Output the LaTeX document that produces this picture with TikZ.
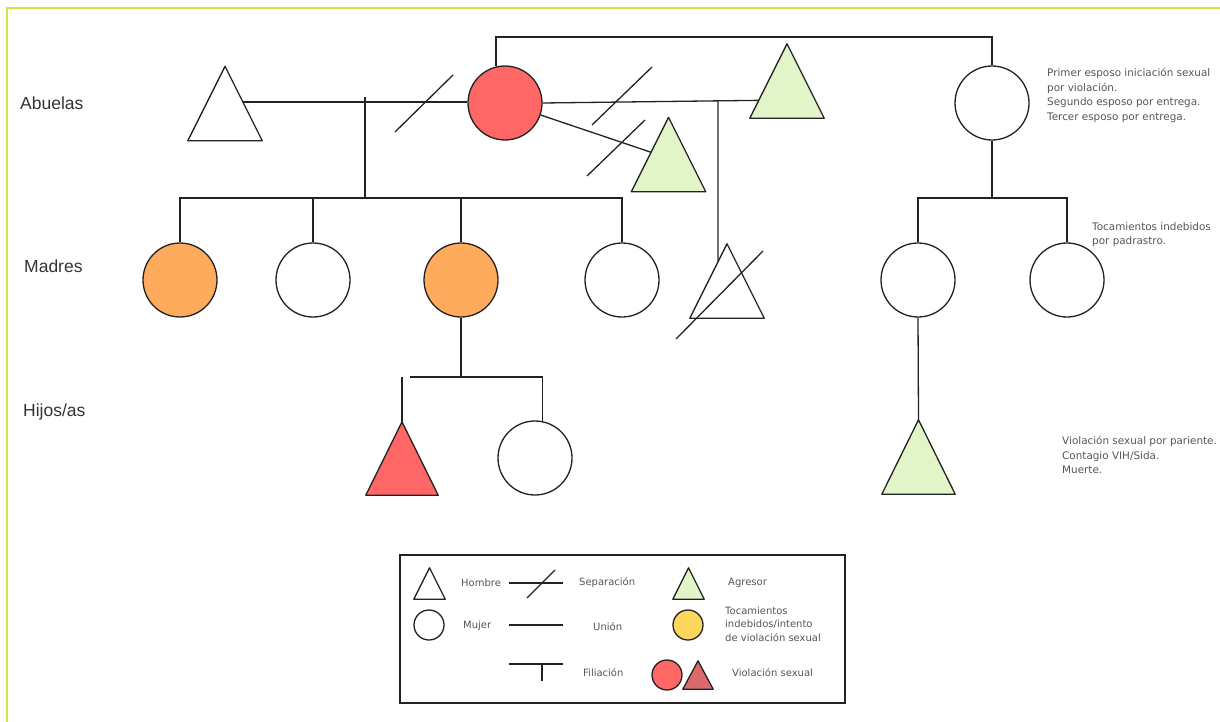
\documentclass[tikz,border=0pt]{standalone}
\usepackage{fontspec}
\setmainfont{Liberation Sans}
\newfontfamily\notefont{DejaVu Sans}
\usetikzlibrary{calc}
\definecolor{redf}{RGB}{255,102,102}
\definecolor{orangef}{RGB}{255,171,94}
\definecolor{greenf}{RGB}{226,245,200}
\definecolor{yellowf}{RGB}{255,214,92}
\definecolor{redtri}{RGB}{219,107,107}
\definecolor{framec}{RGB}{214,228,62}
\definecolor{linec}{RGB}{34,34,34}
\definecolor{txtc}{RGB}{85,85,85}
\definecolor{lblc}{RGB}{51,51,51}
\newcommand{\drawtri}[2]{\draw[shp,fill=#2] (#1.north) -- (#1.south east) -- (#1.south west) -- cycle;}
\begin{document}
\begin{tikzpicture}[x=1pt,y=-1pt,
  shp/.style={draw=linec,line width=1.3pt,line join=round},
  ln/.style={draw=linec,line width=1.3pt},
  circ/.style={circle,shp,minimum size=74pt,inner sep=0pt},
  trib/.style={rectangle,draw=none,inner sep=0pt,minimum width=74pt,minimum height=74pt},
  lcirc/.style={circle,shp,minimum size=30pt,inner sep=0pt},
  ltri/.style={rectangle,draw=none,inner sep=0pt,minimum width=31pt,minimum height=31pt},
  rowlbl/.style={anchor=west,inner sep=0pt,text=lblc,font=\fontsize{17.5}{20}\selectfont},
  note/.style={anchor=north west,inner sep=0pt,align=left,text=txtc,font=\notefont\fontsize{10.4}{14.5}\selectfont},
  leg/.style={anchor=west,inner sep=0pt,text=txtc,font=\notefont\fontsize{10}{14}\selectfont},
]
\useasboundingbox (0,0) rectangle (1220,722);
% frame
\draw[framec,line width=2pt] (7,722) -- (7,8) -- (1220,8);

% row labels
\node[rowlbl] (lab1) at (20,103) {Abuelas};
\node[rowlbl] (lab2) at (24,266) {Madres};
\node[rowlbl] (lab3) at (23,412) {Hijos/as};

% grandparents
\node[trib] (gf1) at (225,103.5) {};
\drawtri{gf1}{white}
\node[circ,fill=redf] (gm) at (505,103) {};
\node[trib] (ga1) at (787,81) {};
\drawtri{ga1}{greenf}
\node[trib] (ga2) at (668.5,154.5) {};
\drawtri{ga2}{greenf}
\node[circ,fill=white] (gm2) at (992,103) {};

% mothers
\node[circ,fill=orangef] (m1) at (180,280) {};
\node[circ,fill=white] (m2) at (313,280) {};
\node[circ,fill=orangef] (m3) at (461,280) {};
\node[circ,fill=white] (m4) at (622,280) {};
\node[trib] (mx) at (727,281) {};
\drawtri{mx}{white}
\node[circ,fill=white] (m5) at (918,280) {};
\node[circ,fill=white] (m6) at (1067,280) {};

% children
\node[trib,minimum width=72pt,minimum height=73pt] (c1) at (402,458.5) {};
\drawtri{c1}{redf}
\node[circ,fill=white] (c2) at (535,458) {};
\node[trib,minimum height=74pt,minimum width=73pt] (c3) at (918.5,457) {};
\drawtri{c3}{greenf}

% coordinates
\coordinate (u1) at ($(gf1.north)!0.48!(gf1.south east)$);
\coordinate (f1top) at (365,97);
\coordinate (f1) at (365,198);
\coordinate (tp) at (740,37);
\coordinate (ga1e) at ($(ga1.north)!0.76!(ga1.south west)$);
\coordinate (ga2e) at ($(ga2.north)!0.47!(ga2.south west)$);
\coordinate (j2) at (718,101);
\coordinate (mxe) at ($(mx.north)!0.243!(mx.south west)$);
\coordinate (f2) at (992,198);
\coordinate (f3) at (461,377);
\coordinate (f3l) at (410,377);
\coordinate (s1a) at (395,132); \coordinate (s1b) at (453,75);
\coordinate (s2a) at (592,125); \coordinate (s2b) at (652,67);
\coordinate (s3a) at (587,176); \coordinate (s3b) at (645,120);
\coordinate (s4a) at (676,339); \coordinate (s4b) at (763,251);

% unions and separations
\draw[ln] (u1) -- (u1 -| gm.west);
\draw[ln] (s1a) -- (s1b);
\draw[ln] (gm.east) -- (ga1e);
\draw[ln] (s2a) -- (s2b);
\draw[ln] (gm) -- (ga2e);
\draw[ln] (s3a) -- (s3b);
\draw[ln] (gm.104) |- (tp) -| (gm2.north);

% filiation: first family
\draw[ln] (f1top) -- (f1);
\draw[ln] (m1.north) -- (m1.north |- f1) -- (m4.north |- f1) -- (m4.north);
\draw[ln] (m2.north) -- (m2.north |- f1);
\draw[ln] (m3.north) -- (m3.north |- f1);
\draw[ln] (j2) -- (mxe);
\draw[ln] (s4a) -- (s4b);

% filiation: right family
\draw[ln] (gm2.south) -- (f2);
\draw[ln] (m5.north) |- (f2) -| (m6.north);
\draw[ln] (m5.south) -- (c3.north);

% children of m3
\draw[ln] (m3.south) -- (f3);
\draw[ln] (f3l) -- (f3) -- (c2.79 |- f3) -- (c2.79);
\draw[ln] (c1.north |- f3) -- (c1.north);

% notes
\node[note] (n1) at (1047,68) {Primer esposo iniciación sexual\\por violación.\\Segundo esposo por entrega.\\Tercer esposo por entrega.};
\node[note] (n2) at (1092,222) {Tocamientos indebidos\\por padrastro.};
\node[note] (n3) at (1062,436) {Violación sexual por pariente.\\Contagio VIH/Sida.\\Muerte.};

% legend
\node[rectangle,draw=linec,line width=1.3pt,minimum width=445pt,minimum height=148pt,inner sep=0pt] (lg) at (622.5,629) {};
\node[ltri] (lt1) at (429.5,583.5) {};
\drawtri{lt1}{white}
\node[leg] (lh) at (461,583) {Hombre};
\coordinate (ls1) at (509,583); \coordinate (ls2) at (563,583);
\coordinate (ls3) at (527,598); \coordinate (ls4) at (555,570);
\draw[ln] (ls1) -- (ls2);
\draw[ln] (ls3) -- (ls4);
\node[leg] (lsep) at (579,583) {Separación};
\node[ltri] (lt2) at (688.5,583.5) {};
\drawtri{lt2}{greenf}
\node[leg] (lag) at (728,583) {Agresor};

\node[lcirc,fill=white] (lc1) at (429,625) {};
\node[leg] (lmu) at (463,626) {Mujer};
\coordinate (lu1) at (509,625); \coordinate (lu2) at (563,625);
\draw[ln] (lu1) -- (lu2);
\node[leg] (lun) at (593,627) {Unión};
\node[lcirc,fill=yellowf] (lc2) at (688,625) {};
\node[leg,align=left,font=\notefont\fontsize{10}{13.5}\selectfont] (lto) at (725,624) {Tocamientos\\indebidos/intento\\de violación sexual};

\coordinate (lf1) at (509,664); \coordinate (lf2) at (563,664);
\coordinate (lf3) at (542,664); \coordinate (lf4) at (542,681);
\draw[ln] (lf1) -- (lf2);
\draw[ln] (lf3) -- (lf4);
\node[leg] (lfi) at (583,673) {Filiación};
\node[lcirc,fill=redf] (lc3) at (667,675) {};
\node[ltri,minimum width=30pt,minimum height=28pt] (lt3) at (698,675) {};
\drawtri{lt3}{redtri}
\node[leg] (lvi) at (732,673) {Violación sexual};
\end{tikzpicture}
\end{document}
